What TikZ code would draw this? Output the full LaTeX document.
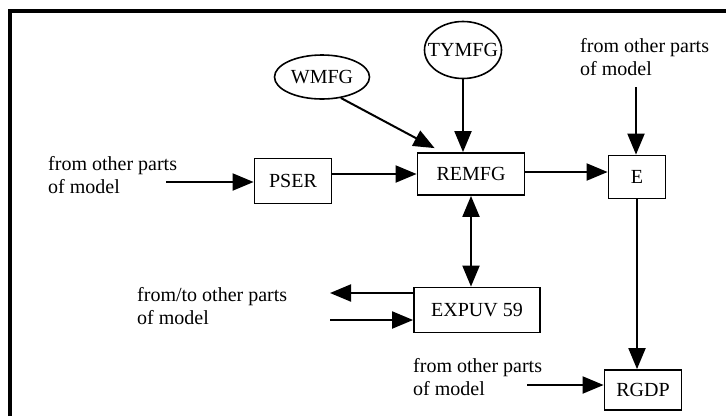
\documentclass[tikz,border=0pt]{standalone}
\usepackage{fontspec}
\setmainfont{Liberation Serif}
\usetikzlibrary{arrows.meta,shapes.geometric}

\begin{document}
\begin{tikzpicture}[x=1pt,y=-1pt,
    every node/.style={font=\fontsize{20}{23}\selectfont},
    box/.style={draw,line width=1.8pt,inner sep=0pt},
    oval/.style={draw,ellipse,line width=1.6pt,inner sep=0pt},
    note/.style={align=left,anchor=west,inner sep=0pt},
    arr/.style={line width=2pt,-{Triangle[length=21pt,width=17pt]}},
    darr/.style={line width=2pt,{Triangle[length=21pt,width=17pt]}-{Triangle[length=21pt,width=17pt]}}]
            \useasboundingbox (0,0) rectangle (726,416);
            \draw[line width=4pt] (10,416) -- (10,11) -- (726,11);
            \node[oval,minimum width=95pt,minimum height=44pt] (wmfg) at (322,77) {WMFG};
            \node[oval,inner xsep=-8pt,minimum width=77pt,minimum height=57pt] (tymfg) at (463,50) {TYMFG};
            \node[box,minimum width=107pt,minimum height=42pt] (remfg) at (471,174) {REMFG};
            \node[box,minimum width=57pt,minimum height=43pt] (e) at (637,177) {E};
            \node[box,minimum width=77pt,minimum height=45pt] (pser) at (293,181) {PSER};
            \node[box,minimum width=126pt,minimum height=45pt] (expuv) at (477,310) {EXPUV 59};
            \node[box,minimum width=77pt,minimum height=40pt] (rgdp) at (643,390) {RGDP};
            \node[note] (leftin) at (48,175) {from other parts\\of model};
            \node[note] (topin) at (580,57) {from other parts\\of model};
            \node[note] (fromto) at (137,306) {from/to other parts\\of model};
            \node[note] (botin) at (413,377) {from other parts\\of model};
            \coordinate (pserin) at (166,182);
            \coordinate (ein) at (636,87);
            \coordinate (ftout) at (330,293);
            \coordinate (ftin) at (330,320);
            \coordinate (rgdpin) at (527,385);
            \draw[arr] (pserin) -- (pserin -| pser.west);
            \draw[arr] (pser.east |- remfg) -- (remfg.west);
            \draw[arr] (wmfg.-48) -- ([xshift=18pt,yshift=4pt]remfg.north west);
            \draw[arr] (tymfg.south) -- (tymfg.south |- remfg.north);
            \draw[arr] ([yshift=2pt]remfg.east) -- ([yshift=2pt]remfg.east -| e.west);
            \draw[arr] (ein) -- (ein |- e.north);
            \draw[arr] (e.south) -- (e.south |- rgdp.north);
            \draw[darr] (remfg.south) -- (remfg.south |- expuv.north);
            \draw[arr] (ftout -| expuv.west) -- (ftout);
            \draw[arr] (ftin) -- (ftin -| expuv.west);
            \draw[arr] (rgdpin) -- (rgdpin -| rgdp.west);
        \end{tikzpicture}
\end{document}
